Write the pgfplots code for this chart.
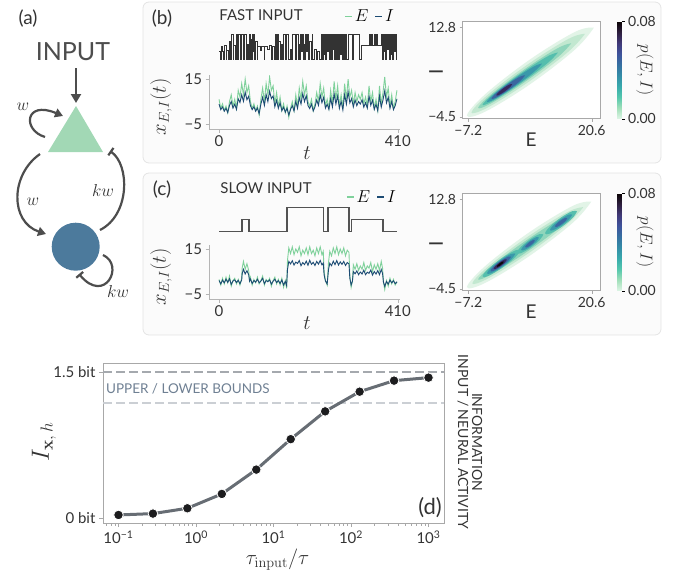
\documentclass[border=0pt]{standalone}
\usepackage[no-math]{fontspec}
\setmainfont{Lato}
\usepackage{pgfplots}
\usepackage{pgfplotstable}
\pgfplotsset{compat=1.18}
\usetikzlibrary{arrows.meta}

\newcommand{\fs}[1]{\fontsize{#1}{#1}\selectfont}

\definecolor{txt}{HTML}{333333}
\definecolor{egreen}{HTML}{7FD19B}
\definecolor{iblue}{HTML}{1C4B73}
\definecolor{axgray}{HTML}{B5B5B5}
\definecolor{framegray}{HTML}{A8A8A8}
\definecolor{boxedge}{HTML}{E4E4E4}
\definecolor{boxfill}{HTML}{FBFBFB}
\definecolor{arrgray}{HTML}{4D4D4D}
\definecolor{trigreen}{HTML}{A2D8B5}
\definecolor{circblue}{HTML}{4C7A9C}
\definecolor{curvegray}{HTML}{676D74}
\definecolor{dotblack}{HTML}{1C1C1E}
\definecolor{upperdash}{HTML}{A5A9AE}
\definecolor{lowerdash}{HTML}{CBCFD4}
\definecolor{boundtxt}{HTML}{6F8093}
% density levels, light to dark
\definecolor{h1}{HTML}{E2F4E7}
\definecolor{h2}{HTML}{C2E8D0}
\definecolor{h3}{HTML}{8FD5BB}
\definecolor{h4}{HTML}{55BEAD}
\definecolor{h5}{HTML}{3A98AA}
\definecolor{h6}{HTML}{3B66A0}
\definecolor{h7}{HTML}{352A5E}
\definecolor{h8}{HTML}{0E0609}

\pgfplotsset{colormap={makor}{rgb255=(222,245,229) rgb255=(160,223,185) rgb255=(84,199,173) rgb255=(56,170,172) rgb255=(52,141,167) rgb255=(53,112,161) rgb255=(62,83,156) rgb255=(65,57,120) rgb255=(45,30,62) rgb255=(11,4,5)}}

% fast input
\pgfplotstableread{
t u
0 0.3
3 0
5 0.5
8 0.3
11 0
13 0.55
16 0
18 0.35
21 0
23 0.7
26 0
28 1
32 0
34 0.55
37 0
39 1
43 0
45 1
48 0.4
50 0
52 1
56 0
58 1
62 0
64 0.6
67 0
69 1
71 0
72 0.8
74 0
76 1
78 0.3
80 1
82 0
84 0.7
87 0
89 0.5
95 0.35
98 0.5
103 0
105 0.5
110 0.4
115 0.55
120 0
122 0.5
126 0
129 1
131 0
133 1
135 0
137 0.7
140 0
143 0.6
145 0
147 1
153 0
155 1
160 0
163 0.4
166 0
168 1
175 0
177 1
181 0
183 0.6
185 0
187 1
189 0.3
191 1
193 0
195 0.6
197 0
199 1
201 0.3
203 1
205 0
208 0.7
211 0
213 1
215 0
219 0.4
223 0
226 0.3
231 0
235 1
237 0
239 1
241 0.2
243 1
245 0
247 1
249 0.3
251 1
253 0
255 1
257 0
259 1
261 0.4
263 1
265 0
268 1
270 0
272 1
274 0
277 1
279 0.2
281 1
283 0
286 1
288 0
290 1
292 0
296 1
306 0
309 1
322 0
326 0.55
345 1
347 0.55
350 1
352 0.55
356 1
358 0.55
362 1
364 0.55
372 1
374 0
376 1
378 0.3
380 1
382 0
384 1
386 0.4
388 1
390 0
392 1
394 0.2
396 1
398 0
400 1
402 0.3
404 1
406 0
407 0
}\inb

% slow input
\pgfplotstableread{
t u
1 0
53 0.5
69 0
156 1
239 0
250 1
298 0
304 0.5
376 0
407 0
}\inc

% fast input response
\pgfplotstableread{
t E I
0 6 3.9
4 2 1.4
8 4 2.6
12 1 0.7
16 3 2.0
20 0 0.1
24 5 3.3
28 8 5.0
32 3 2.1
36 6 3.8
40 2 1.5
44 10 6.2
48 7 4.6
52 13 8.0
56 8 5.1
60 15 9.2
64 9 5.8
68 12 7.4
72 5 3.2
76 2 1.4
80 4 2.7
84 1 0.7
88 3 2.1
92 -1 -0.4
96 6 3.9
100 11 6.9
104 5 3.3
108 13 8.1
112 8 5.0
116 16 9.6
120 10 6.3
124 12 7.5
128 4 2.7
132 9 5.6
136 3 2.0
140 7 4.5
144 1 0.9
148 4 2.5
152 0 0.3
156 3 2.0
160 -2 -1.0
164 2 1.5
168 5 3.2
172 1 0.8
176 8 5.1
180 3 2.0
184 11 6.8
188 6 3.9
192 14 8.6
196 8 5.0
200 12 7.6
204 5 3.2
208 3 1.9
212 6 3.9
216 1 0.8
220 4 2.6
224 9 5.7
228 5 3.3
232 13 8.0
236 7 4.5
240 11 6.9
244 3 2.1
248 6 3.8
252 2 1.5
256 10 6.3
260 4 2.6
264 14 8.5
268 6 3.9
272 12 7.5
276 3 2.0
280 8 5.1
284 2 1.3
288 13 8.1
292 6 3.9
296 15 9.3
300 7 4.4
304 10 6.3
308 4 2.6
312 9 5.7
316 5 3.2
320 8 5.0
324 6 3.9
328 9 5.8
332 4 2.5
336 7 4.5
340 3 2.1
344 12 7.4
348 5 3.3
352 9 5.6
356 2 1.5
360 6 3.8
364 1 0.9
368 12 7.5
372 4 2.5
376 9 5.7
380 16 9.8
384 7 4.4
388 11 6.9
392 3 2.0
396 8 5.1
400 2 1.4
404 5 3.2
408 10 6.2
}\tsb

% slow input response
\pgfplotstableread{
t E I
0 1.5 1.0
4 -1.0 -0.5
8 2.0 1.2
12 -0.5 0.0
16 2.5 1.6
20 0.0 0.2
24 3.0 1.8
28 -1.5 -0.7
32 1.0 0.8
36 2.0 1.3
40 -0.5 0.1
44 1.5 1.1
48 -1.0 -0.4
52 2.0 1.3
53 6.5 4.0
56 9.5 6.0
60 6.0 3.9
64 8.5 5.4
68 5.5 3.6
70 1.0 0.8
72 2.5 1.7
76 -1.0 -0.3
80 1.5 1.0
84 0.0 0.3
88 2.5 1.6
92 -0.5 0.0
96 1.0 0.8
100 3.0 2.0
104 -1.0 -0.4
108 1.5 1.0
112 0.5 0.5
116 2.0 1.3
120 -1.5 -0.6
124 1.0 0.7
128 2.5 1.6
132 -0.5 0.1
136 1.5 1.0
140 -1.0 -0.3
144 2.0 1.3
148 -2.0 -1.0
152 1.0 0.6
155 -2.5 -1.2
157 10.0 6.0
160 15.5 9.5
164 13.0 8.4
168 16.0 9.8
172 12.5 7.9
176 15.0 9.2
180 13.5 8.6
184 16.0 9.9
188 12.0 7.6
192 14.5 9.0
196 13.0 8.1
200 15.5 9.6
204 12.5 7.8
208 16.0 10.0
212 13.0 8.2
216 14.5 9.1
220 12.0 7.7
224 15.5 9.5
228 13.0 8.3
232 16.0 9.9
236 12.5 8.0
239 14.0 8.8
241 5.0 3.5
244 1.0 0.8
248 -1.0 -0.5
251 9.0 5.8
254 14.0 8.7
258 12.0 7.6
262 15.5 9.6
266 13.0 8.1
270 16.0 9.9
274 12.5 7.9
278 15.0 9.3
282 13.0 8.2
286 15.5 9.5
290 12.0 7.7
294 14.5 9.0
298 13.5 8.4
300 3.0 2.0
303 -2.0 -1.0
306 1.0 0.8
308 8.0 5.0
312 6.0 4.0
316 8.5 5.3
320 5.5 3.6
324 7.5 4.8
328 6.0 3.9
332 9.0 5.6
336 5.5 3.6
340 7.5 4.7
344 6.5 4.2
348 9.0 5.7
352 5.0 3.4
356 8.0 5.0
360 6.0 3.9
364 8.5 5.4
368 5.5 3.6
372 9.5 5.9
375 6.5 4.2
377 0.5 0.4
380 -3.0 -1.6
384 1.0 0.6
388 -1.5 -0.6
392 2.0 1.2
396 -0.5 0.0
400 1.5 0.9
404 -1.0 -0.4
408 0.5 0.4
}\tsc

% information vs input timescale
\pgfplotstableread{
r info
0.1 0.028
0.2783 0.042
0.7743 0.097
2.154 0.245
5.995 0.496
16.68 0.810
46.42 1.097
129.2 1.300
359.4 1.414
1000 1.445
}\infotab

\pgfplotsset{
  tsaxis/.style={
    anchor=north west, scale only axis, width=191pt, height=54pt,
    xmin=-23, xmax=415, ymin=-7.2, ymax=16.8,
    axis x line*=bottom, axis y line*=left,
    axis line style={axgray, line width=0.8pt, -},
    xtick={0,410}, xticklabels={0,410}, ytick={-5,15}, yticklabels={−5,15},
    tick align=outside, major tick length=3.5pt, tick style={axgray},
    ticklabel style={font=\fs{15}, text=txt},
    xlabel={$t$}, ylabel={$x_{E,I}(t)$}, label style={font=\fs{20}, text=txt},
    xlabel style={at={(axis description cs:0.513,-0.444)}, anchor=center},
    ylabel style={at={(axis description cs:-0.251,0.41)}, anchor=center},
    legend style={draw=none, fill=none, font=\fs{17}, legend columns=2,
      /tikz/every even column/.append style={column sep=4pt}},
    legend image code/.code={\draw[#1, line width=1.8pt] (0pt,0pt) -- (7pt,0pt);},
  },
  inaxis/.style={
    anchor=north west, scale only axis, width=191pt, height=25pt,
    xmin=-23, xmax=415, ymin=0, ymax=1, hide axis, clip=false,
  },
  heataxis/.style={
    anchor=north west, scale only axis, width=138.2pt, height=97.3pt,
    xmin=-8.51, xmax=22.63, ymin=-4.91, ymax=13.92,
    xtick={-7.2,20.6}, xticklabels={−7.2,20.6},
    ytick={-4.5,12.8}, yticklabels={−4.5,12.8},
    tick align=outside, xtick pos=bottom, ytick pos=left, major tick length=3pt,
    axis line style={framegray, line width=0.7pt}, tick style={framegray},
    ticklabel style={font=\fs{14}, text=txt},
    axis background/.style={fill=white},
    xlabel={E}, ylabel={I}, label style={font=\fs{19}, text=txt},
    xlabel style={at={(axis description cs:0.496,-0.218)}, anchor=center},
    ylabel style={at={(axis description cs:-0.192,0.481)}, anchor=center},
    colormap name=makor, colorbar, point meta min=0, point meta max=0.08,
    colorbar shift/.style={xshift=8.3pt},
    colorbar style={width=4.5pt, ytick={0,0.08}, yticklabels={0.00,0.08},
      scaled y ticks=false,
      axis line style={draw=none}, ytick pos=right, tick align=outside,
      major tick length=3pt, tick style={black},
      ticklabel style={font=\fs{14}, text=txt},
      ylabel={$p(E,I)$},
      ylabel style={at={(axis description cs:6.2,0.5)}, anchor=center, rotate=180, font=\fs{17}, text=txt}},
  },
  lvl/.style={draw=none, fill=#1, smooth, tension=0.6},
}

\begin{document}
\begin{tikzpicture}
\useasboundingbox (0pt,0pt) rectangle (688pt,-581pt);

% ---- panel (a) and boxes
\begin{scope}[x=1pt,y=-1pt]
\draw[boxedge, fill=boxfill, rounded corners=6pt, line width=0.8pt] (143,2) rectangle (661,163);
\draw[boxedge, fill=boxfill, rounded corners=6pt, line width=0.8pt] (143,173) rectangle (661,335);

\node[font=\fs{19}, text=txt] at (28,19) {(a)};
\node[font=\fs{25}, text=arrgray] at (73,52) {INPUT};
\fill[trigreen] (48,152) -- (103,152) -- (76,106) -- cycle;
\fill[circblue] (75.7,246.7) circle (24);
\begin{scope}[arrgray, line width=2.2pt]
\draw[-{Triangle[length=9pt,width=10pt]}] (76,68) -- (76,103);
\draw[-{Triangle[length=8pt,width=9pt]}] (45,137) .. controls (22,130) and (25,100) .. (63,116);
\draw[-{Triangle[length=8pt,width=9pt]}] (40,154) .. controls (10,175) and (10,222) .. (46,234);
\draw[-{Bar[width=9pt]}] (100,230) .. controls (130,215) and (130,165) .. (110,151);
\draw[-{Bar[width=9pt]}] (103,255) .. controls (125,265) and (105,305) .. (79,274);
\end{scope}
\node[font=\fs{17}, text=txt] at (23,107) {$w$};
\node[font=\fs{17}, text=txt] at (33,202) {$w$};
\node[font=\fs{17}, text=txt] at (103,190) {$kw$};
\node[font=\fs{17}, text=txt] at (118,291) {$kw$};

\node[font=\fs{19}, text=txt] at (162,19) {(b)};
\node[font=\fs{15}, text=txt] at (261,15.5) {FAST INPUT};
\node[font=\fs{19}, text=txt] at (162,190) {(c)};
\node[font=\fs{15}, text=txt] at (266,188.5) {SLOW INPUT};
\end{scope}

% ---- panel (b), time series
\begin{axis}[inaxis, at={(209pt,-34.3pt)}]
\addplot[const plot mark left, color=black!80, line width=0.8pt] table[x=t,y=u] {\inb};
\end{axis}
\begin{axis}[tsaxis, at={(209pt,-75pt)},
  legend style={at={(axis description cs:0.843,2.083)}, anchor=center}]
\addplot[egreen, line width=0.9pt] table[x=t,y=E] {\tsb};
\addlegendentry{$E$}
\addplot[iblue, line width=0.9pt] table[x=t,y=I] {\tsb};
\addlegendentry{$I$}
\end{axis}

% ---- panel (c), time series
\begin{axis}[inaxis, at={(209pt,-207.3pt)}, height=24.4pt]
\addplot[const plot mark left, color=black!68, line width=1.5pt] table[x=t,y=u] {\inc};
\end{axis}
\begin{axis}[tsaxis, at={(209pt,-245pt)},
  legend style={at={(axis description cs:0.853,1.89)}, anchor=center}]
\addplot[egreen, line width=0.9pt] table[x=t,y=E] {\tsc};
\addlegendentry{$E$}
\addplot[iblue, line width=0.9pt] table[x=t,y=I] {\tsc};
\addlegendentry{$I$}
\end{axis}

% ---- panel (b), joint density
\begin{axis}[heataxis, at={(462.5pt,-21.5pt)}]
\addplot[lvl=h1] coordinates {(21.1,12.74) (16.91,11.94) (6.8,6.63) (-3.31,-0.09) (-7.5,-4.28) (-3.31,-3.49) (6.8,1.83) (16.91,8.55) (21.1,12.74)};
\addplot[lvl=h2] coordinates {(19.1,11.55) (15.35,10.55) (6.3,5.68) (-2.75,-0.22) (-6.5,-3.69) (-2.75,-2.69) (6.3,2.18) (15.35,8.08) (19.1,11.55)};
\addplot[lvl=h3] coordinates {(16.0,9.70) (12.92,8.75) (5.5,4.70) (-1.92,-0.08) (-5.0,-2.80) (-1.92,-1.85) (5.5,2.20) (12.92,6.99) (16.0,9.70)};
\addplot[lvl=h4] coordinates {(13.0,7.92) (10.51,7.11) (4.5,3.81) (-1.51,-0.05) (-4.0,-2.20) (-1.51,-1.39) (4.5,1.91) (10.51,5.76) (13.0,7.92)};
\addplot[lvl=h5] coordinates {(9.4,5.77) (7.58,5.22) (3.2,2.83) (-1.18,0.01) (-3.0,-1.61) (-1.18,-1.05) (3.2,1.33) (7.58,4.16) (9.4,5.77)};
\addplot[lvl=h6] coordinates {(5.6,3.51) (4.49,3.27) (1.8,1.85) (-0.89,0.08) (-2.0,-1.01) (-0.89,-0.77) (1.8,0.65) (4.49,2.43) (5.6,3.51)};
\addplot[lvl=h7] coordinates {(2.7,1.79) (2.17,1.76) (0.9,1.12) (-0.37,0.24) (-0.9,-0.36) (-0.37,-0.32) (0.9,0.32) (2.17,1.19) (2.7,1.79)};
\end{axis}

% ---- panel (c), joint density
\begin{axis}[heataxis, at={(462.5pt,-193.5pt)}]
\addplot[lvl=h1] coordinates {(20.5,12.35) (16.4,11.55) (6.5,6.39) (-3.4,-0.13) (-7.5,-4.18) (-3.4,-3.38) (6.5,1.79) (16.4,8.30) (20.5,12.35)};
\addplot[lvl=h2] coordinates {(18.7,11.28) (15.04,10.29) (6.2,5.56) (-2.64,-0.14) (-6.3,-3.47) (-2.64,-2.47) (6.2,2.26) (15.04,7.96) (18.7,11.28)};
\addplot[lvl=h3] coordinates {(17.0,10.28) (13.78,9.19) (6.0,4.94) (-1.78,0.02) (-5.0,-2.70) (-1.78,-1.61) (6.0,2.64) (13.78,7.57) (17.0,10.28)};
% blob at low input
\addplot[lvl=h4] coordinates {(4.6,2.96) (3.34,2.89) (0.3,1.38) (-2.74,-0.70) (-4.0,-2.11) (-2.74,-2.04) (0.3,-0.52) (3.34,1.55) (4.6,2.96)};
\addplot[lvl=h5] coordinates {(3.4,2.26) (2.46,2.23) (0.2,1.12) (-2.06,-0.44) (-3.0,-1.52) (-2.06,-1.50) (0.2,-0.38) (2.46,1.17) (3.4,2.26)};
\addplot[lvl=h6] coordinates {(2.4,1.67) (1.73,1.68) (0.1,0.89) (-1.53,-0.24) (-2.2,-1.05) (-1.53,-1.06) (0.1,-0.27) (1.73,0.86) (2.4,1.67)};
\addplot[lvl=h7] coordinates {(1.5,1.14) (1.06,1.17) (0,0.67) (-1.06,-0.08) (-1.5,-0.64) (-1.06,-0.67) (0,-0.17) (1.06,0.58) (1.5,1.14)};
\addplot[lvl=h8] coordinates {(0.8,0.72) (0.57,0.76) (0,0.50) (-0.57,0.09) (-0.8,-0.22) (-0.57,-0.26) (0,0.0) (0.57,0.41) (0.8,0.72)};
% blob at medium input
\addplot[lvl=h4] coordinates {(9.7,5.97) (8.82,6.06) (6.7,5.05) (4.58,3.55) (3.7,2.43) (4.58,2.35) (6.7,3.35) (8.82,4.85) (9.7,5.97)};
\addplot[lvl=h5] coordinates {(8.7,5.38) (8.11,5.46) (6.7,4.80) (5.29,3.79) (4.7,3.02) (5.29,2.95) (6.7,3.60) (8.11,4.61) (8.7,5.38)};
\addplot[lvl=h6] coordinates {(7.8,4.85) (7.48,4.93) (6.7,4.58) (5.92,4.01) (5.6,3.55) (5.92,3.48) (6.7,3.82) (7.48,4.39) (7.8,4.85)};
% blob at high input
\addplot[lvl=h4] coordinates {(17.3,10.46) (16.25,10.51) (13.7,9.28) (11.16,7.50) (10.1,6.21) (11.16,6.16) (13.7,7.38) (16.25,9.16) (17.3,10.46)};
\addplot[lvl=h5] coordinates {(16.2,9.81) (15.47,9.84) (13.7,8.98) (11.93,7.75) (11.2,6.86) (11.93,6.83) (13.7,7.68) (15.47,8.92) (16.2,9.81)};
\addplot[lvl=h6] coordinates {(15.1,9.16) (14.69,9.21) (13.7,8.75) (12.71,8.05) (12.3,7.51) (12.71,7.45) (13.7,7.91) (14.69,8.62) (15.1,9.16)};
\end{axis}

% ---- panel (d)
\begin{axis}[at={(103pt,-363pt)}, anchor=north west, scale only axis,
  width=341pt, height=160pt,
  xmode=log, xmin=0.0631, xmax=1585, ymin=-0.055, ymax=1.596,
  xtick={0.1,1,10,100,1000},
  xticklabels={10\textsuperscript{−1},10\textsuperscript{0},10\textsuperscript{1},10\textsuperscript{2},10\textsuperscript{3}},
  minor xtick={0.07,0.08,0.09,0.2,0.3,0.4,0.5,0.6,0.7,0.8,0.9,2,3,4,5,6,7,8,9,20,30,40,50,60,70,80,90,200,300,400,500,600,700,800,900},
  ytick={0,1.5}, yticklabels={0 bit,1.5 bit},
  xtick pos=bottom, ytick pos=left, tick align=outside,
  major tick length=4pt, minor tick length=2.5pt,
  axis line style={framegray, line width=0.7pt}, tick style={framegray},
  ticklabel style={font=\fs{15}, text=txt},
  xlabel={$\tau_{\mathrm{input}}/\tau$}, ylabel={$I_{\mathbf{x},\,h}$},
  label style={font=\fs{22}, text=txt},
  xlabel style={at={(axis description cs:0.512,-0.231)}, anchor=center},
  ylabel style={at={(axis description cs:-0.173,0.506)}, anchor=center, font=\fs{27}},
  clip=false]
\addplot[upperdash, line width=1.8pt, dash pattern=on 9pt off 4pt] coordinates {(0.0631,1.5) (1585,1.5)};
\addplot[lowerdash, line width=1.8pt, dash pattern=on 9pt off 4pt] coordinates {(0.0631,1.187) (1585,1.187)};
\addplot[curvegray, line width=3pt, mark=*, mark size=4.8pt,
  mark options={fill=dotblack, draw=white, line width=0.8pt}] table[x=r,y=info] {\infotab};
\node[font=\fs{13.5}, text=boundtxt] at (rel axis cs:0.249,0.841) {UPPER / LOWER BOUNDS};
\node[font=\fs{22}, text=txt] at (rel axis cs:0.959,0.094) {(d)};
\node[font=\fs{14}, text=txt, rotate=-90, align=center] at (rel axis cs:1.076,0.506) {INFORMATION\\INPUT / NEURAL ACTIVITY};
\end{axis}
\end{tikzpicture}
\end{document}
